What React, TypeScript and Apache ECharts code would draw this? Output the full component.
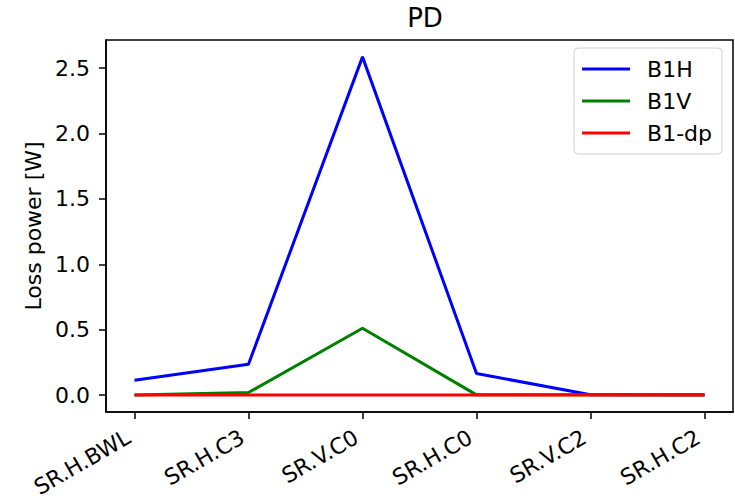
import React, { useEffect, useRef } from "react";
import * as echarts from "echarts";

const categories = ["SR.H.BWL", "SR.H.C3", "SR.V.C0", "SR.H.C0", "SR.V.C2", "SR.H.C2"];
const b1h = [0.114, 0.236, 2.585, 0.165, 0.003, 0.002];
const b1v = [0.0, 0.02, 0.511, 0.002, 0.002, 0.001];
const b1dp = [0.0, 0.0, 0.0, 0.0, 0.0, 0.0];
const yTicks = [0, 0.5, 1.0, 1.5, 2.0, 2.5];
const seriesNames = ["B1H", "B1V", "B1-dp"];
const seriesColors = ["#0000ff", "#008000", "#ff0000"];

const FONT = "DejaVu Sans";

export default function App() {
  const ref = useRef<HTMLDivElement>(null);
  useEffect(() => {
    document.body.style.margin = "0";
    if (!ref.current) return;
    const chart = echarts.init(ref.current, undefined, { renderer: "svg" });
    const allData = [b1h, b1v, b1dp];
    const idx = categories.map((_, i) => i);
    chart.setOption({
      animation: false,
      backgroundColor: "#ffffff",
      textStyle: { fontFamily: FONT },
      title: {
        text: "PD",
        left: 420,
        top: 0,
        textAlign: "center",
        textStyle: { fontFamily: FONT, fontSize: 26, fontWeight: "normal", color: "#000" },
      },
      grid: {
        left: 106,
        right: 2,
        top: 40,
        bottom: 87,
        containLabel: false,
        outerBoundsMode: "none",
        show: true,
        borderColor: "#000",
        borderWidth: 1.5,
        backgroundColor: "transparent",
      },
      legend: {
        orient: "vertical",
        right: 13,
        top: 48,
        padding: [10, 10, 10, 8],
        itemGap: 10,
        itemWidth: 48,
        itemHeight: 3,
        icon: "rect",
        backgroundColor: "#fff",
        borderColor: "#d0d0d0",
        borderWidth: 1,
        borderRadius: 4,
        data: seriesNames,
        textStyle: { fontFamily: FONT, fontSize: 22, color: "#000", padding: [0, 0, 0, 12] },
      },
      xAxis: {
        type: "value",
        min: -0.25,
        max: 5.25,
        splitLine: { show: false },
        axisLine: { show: true, onZero: false, lineStyle: { color: "#000", width: 1.5 } },
        axisTick: {
          show: true,
          length: 7,
          lineStyle: { color: "#000", width: 1.5 },
          customValues: idx,
        },
        axisLabel: {
          customValues: idx,
          rotate: 30,
          margin: 20,
          padding: [0, 7, 0, 0],
          fontFamily: FONT,
          fontSize: 22,
          color: "#000",
          formatter: (v: number) => categories[Math.round(v)] ?? "",
        },
      },
      yAxis: {
        type: "value",
        min: -0.129,
        max: 2.714,
        name: "Loss power [W]",
        nameLocation: "middle",
        nameGap: 59,
        nameTextStyle: { fontFamily: FONT, fontSize: 22, color: "#000" },
        splitLine: { show: false },
        axisLine: { show: true, onZero: false, lineStyle: { color: "#000", width: 1.5 } },
        axisTick: {
          show: true,
          length: 7,
          lineStyle: { color: "#000", width: 1.5 },
          customValues: yTicks,
        },
        axisLabel: {
          customValues: yTicks,
          margin: 16,
          fontFamily: FONT,
          fontSize: 22,
          color: "#000",
          formatter: (v: number) => v.toFixed(1),
        },
      },
      series: seriesNames.map((name, s) => ({
        name,
        type: "line",
        symbol: "none",
        showSymbol: false,
        color: seriesColors[s],
        lineStyle: { width: 3, color: seriesColors[s] },
        data: categories.map((_, i) => [i, allData[s][i]]),
        z: 2 + s,
      })),
    });
    return () => chart.dispose();
  }, []);
  return <div ref={ref} style={{ width: 735, height: 499 }} />;
}
